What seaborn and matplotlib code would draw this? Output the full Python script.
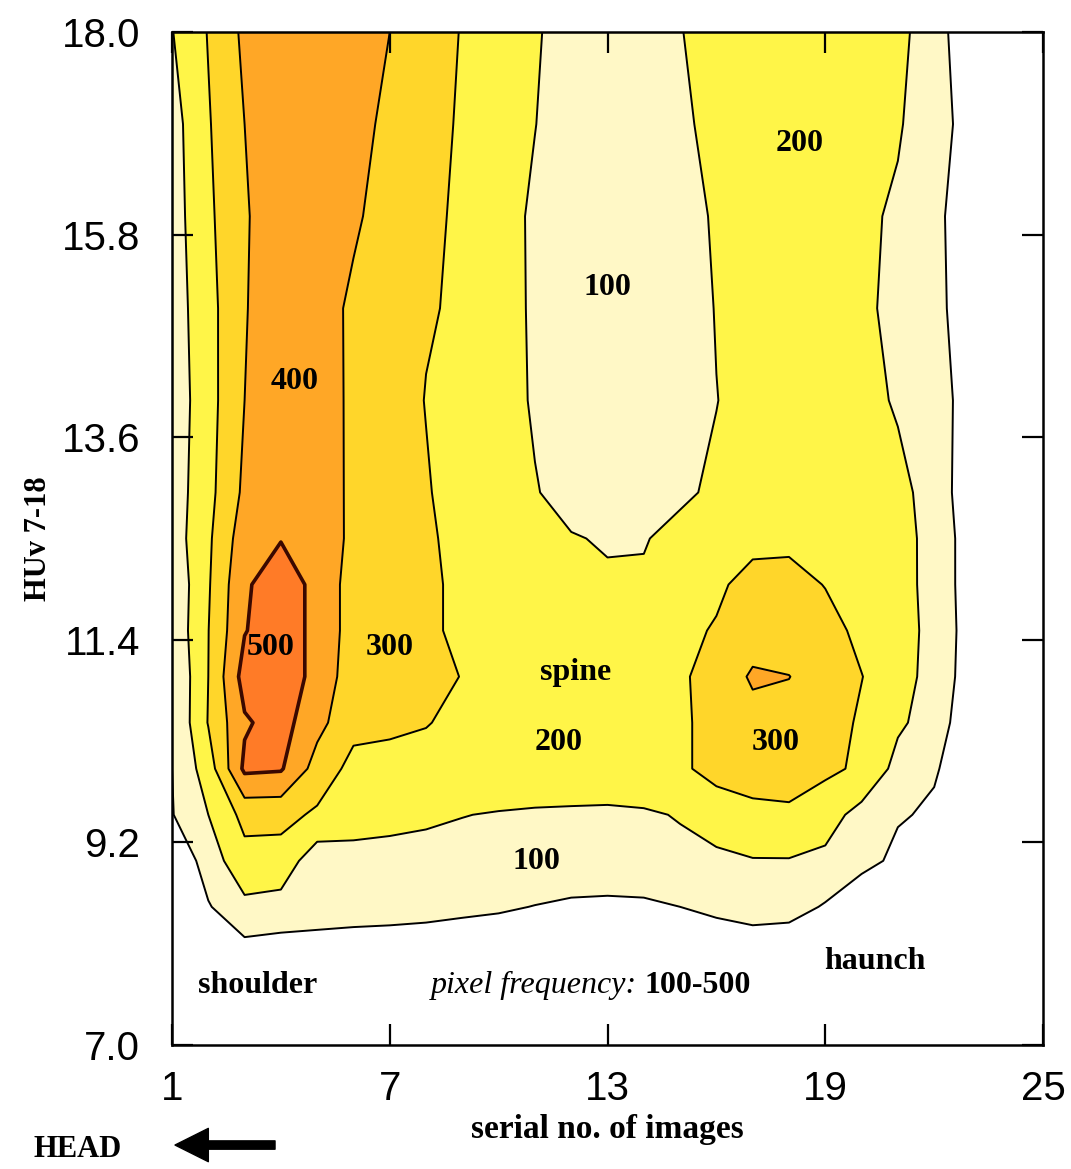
import matplotlib
matplotlib.use("Agg")
import matplotlib.pyplot as plt
import numpy as np
import seaborn as sns

# serial no. of images (columns) and HUv level (rows)
serial_no = list(range(1, 26))
huv = [8.0, 8.5, 9.0, 9.5, 10.0, 10.5, 11.0, 11.5, 12.0, 12.5, 13.0, 14.0, 15.0, 16.0, 17.0, 18.0]

# pixel frequency, one row per huv level (bottom to top)
pixel_freq = [
    [0, 0, 60, 50, 40, 35, 30, 25, 20, 15, 10, 5, 5, 5, 10, 20, 25, 25, 10, 0, 0, 0, 0, 0, 0],
    [0, 92, 177, 164, 160, 151, 147, 139, 125, 114, 97, 80, 74, 80, 100, 125, 150, 139, 91, 0, 0, 0, 0, 0, 0],
    [0, 150, 266, 260, 140, 160, 165, 168, 172, 175, 178, 180, 182, 180, 180, 185, 195, 195, 180, 140, 73, 10, 0, 0, 0],
    [95, 200, 330, 330, 285, 250, 230, 215, 202, 195, 190, 188, 185, 190, 205, 235, 275, 285, 240, 167, 110, 85, 30, 5, 0],
    [100, 250, 520, 510, 360, 270, 265, 262, 260, 258, 255, 252, 255, 260, 280, 340, 345, 340, 320, 284, 169, 110, 40, 5, 0],
    [100, 305, 488, 540, 430, 330, 320, 305, 274, 262, 255, 250, 250, 255, 285, 330, 362, 365, 340, 288, 215, 161, 22, 5, 0],
    [100, 300, 540, 560, 469, 344, 335, 320, 298, 275, 262, 255, 250, 260, 290, 327, 415, 402, 350, 302, 250, 156, 59, 12, 0],
    [123, 298, 495, 560, 469, 359, 340, 315, 283, 270, 260, 255, 250, 260, 280, 307, 345, 345, 330, 280, 240, 172, 55, 12, 0],
    [120, 290, 485, 560, 469, 359, 340, 315, 283, 270, 260, 250, 210, 210, 260, 285, 330, 330, 297, 270, 235, 169, 50, 10, 0],
    [147, 283, 455, 495, 470, 375, 345, 315, 270, 245, 225, 205, 193, 195, 225, 255, 275, 280, 270, 255, 230, 173, 47, 10, 0],
    [145, 270, 420, 470, 455, 380, 340, 305, 274, 240, 205, 170, 155, 165, 185, 215, 245, 255, 255, 245, 225, 165, 32, 10, 0],
    [137, 263, 400, 450, 440, 385, 330, 298, 275, 240, 190, 125, 110, 110, 130, 198, 235, 240, 245, 230, 190, 130, 72, 15, 0],
    [149, 265, 395, 450, 430, 388, 350, 305, 292, 245, 185, 130, 115, 115, 140, 205, 225, 235, 235, 215, 180, 115, 72, 15, 0],
    [155, 280, 395, 430, 440, 410, 372, 320, 285, 240, 185, 135, 120, 125, 150, 215, 235, 240, 240, 220, 185, 120, 53, 10, 0],
    [160, 292, 400, 445, 455, 430, 380, 330, 290, 245, 202, 150, 130, 140, 182, 228, 235, 240, 240, 235, 210, 140, 63, 10, 0],
    [196, 305, 420, 460, 470, 450, 400, 345, 295, 250, 210, 160, 140, 150, 198, 220, 235, 240, 240, 235, 225, 150, 20, 5, 0],
]

levels = [100, 200, 300, 400, 500, 700]
band_colors = ["#FFF8C6", "#FFF548", "#FFD62A", "#FFA726", "#FF7B27"]

x_ticks = [1, 7, 13, 19, 25]
y_ticks = [7.0, 9.2, 11.4, 13.6, 15.8, 18.0]
y_tick_labels = ["7.0", "9.2", "11.4", "13.6", "15.8", "18.0"]

# level labels written inside the bands
band_labels = ["400", "500", "300", "200", "300", "100", "100", "200"]
band_label_x = [4.39, 3.73, 7.01, 11.66, 17.62, 11.03, 12.99, 18.3]
band_label_y = [14.2, 11.32, 11.32, 10.29, 10.29, 8.99, 15.23, 16.79]

sns.set_style("white")
plt.rcParams["font.family"] = ["Liberation Serif", "DejaVu Serif"]
plt.rcParams["text.color"] = "black"
plt.rcParams["axes.labelcolor"] = "black"
plt.rcParams["xtick.color"] = "black"
plt.rcParams["ytick.color"] = "black"
plt.rcParams["xtick.bottom"] = True
plt.rcParams["xtick.top"] = True
plt.rcParams["ytick.left"] = True
plt.rcParams["ytick.right"] = True
plt.rcParams["xtick.direction"] = "in"
plt.rcParams["ytick.direction"] = "in"

fig = plt.figure(figsize=(10.71, 11.69), dpi=100)
ax = fig.add_axes([0.1606, 0.1061, 0.8133, 0.8665])

X, Y = np.meshgrid(serial_no, huv)
Z = np.array(pixel_freq)
palette = sns.color_palette(band_colors)
ax.contourf(X, Y, Z, levels=levels, colors=palette)
ax.contour(X, Y, Z, levels=[100, 200, 300, 400], colors="black", linewidths=1.4)
ax.contour(X, Y, Z, levels=[500], colors="#3a0800", linewidths=2.6)

for lab, lx, ly in zip(band_labels, band_label_x, band_label_y):
    ax.text(lx, ly, lab, ha="center", va="center", fontsize=23, fontweight="bold")
ax.text(12.13, 11.05, "spine", ha="center", va="center", fontsize=23, fontweight="bold")
ax.text(3.37, 7.56, "shoulder", ha="center", va="baseline", fontsize=23, fontweight="bold")
ax.text(20.37, 7.83, "haunch", ha="center", va="baseline", fontsize=23, fontweight="bold")
ax.text(13.81, 7.56, "pixel frequency:", ha="right", va="baseline", fontsize=23, fontstyle="italic")
ax.text(14.03, 7.56, "100-500", ha="left", va="baseline", fontsize=23, fontweight="bold")

ax.set_xlim(1, 25)
ax.set_ylim(7, 18)
ax.set_xticks(x_ticks)
ax.set_xticklabels([str(v) for v in x_ticks], fontfamily="Liberation Sans", fontsize=29)
ax.set_yticks(y_ticks)
ax.set_yticklabels(y_tick_labels, fontfamily="Liberation Sans", fontsize=29)
ax.xaxis.set_ticks_position("both")
ax.yaxis.set_ticks_position("both")
ax.tick_params(axis="both", which="major", direction="in", length=15, width=1.6,
               bottom=True, left=True, top=True, right=True,
               labelbottom=True, labelleft=True, labeltop=False, labelright=False,
               color="black", zorder=5)
ax.tick_params(axis="x", pad=18)
ax.tick_params(axis="y", pad=23)
for sp in ax.spines.values():
    sp.set_color("black")
    sp.set_linewidth(1.8)
ax.set_axisbelow(False)

ax.set_xlabel("serial no. of images", fontsize=24, fontweight="bold", labelpad=4)
ax.set_ylabel("HUv 7-18", fontsize=22, fontweight="bold", labelpad=6)

fig.text(0.0728, 0.0163, "HEAD", ha="center", va="center", fontsize=22, fontweight="bold")
ax.annotate("", xy=(0.1634, 0.0205), xytext=(0.2568, 0.0205),
            xycoords="figure fraction", textcoords="figure fraction",
            arrowprops=dict(arrowstyle="simple,head_length=1.2,head_width=1.2,tail_width=0.3",
                            mutation_scale=20, color="black", shrinkA=0, shrinkB=0))

fig.savefig("out.png", dpi=100)
